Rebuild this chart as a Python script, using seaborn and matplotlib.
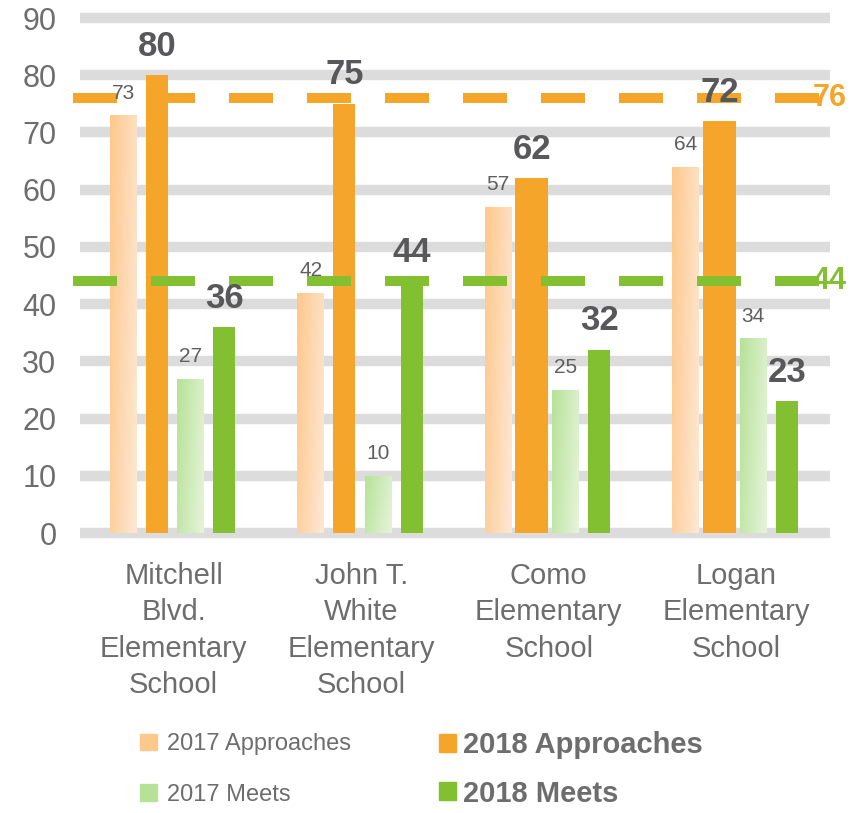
import numpy as np
import pandas as pd
import seaborn as sns
import matplotlib.pyplot as plt
from matplotlib.patches import Patch
from matplotlib.colors import to_rgb

# dati
scuole = ["Mitchell\nBlvd.\nElementary\nSchool", "John T.\nWhite\nElementary\nSchool",
          "Como\nElementary\nSchool", "Logan\nElementary\nSchool"]
serie = ["2017 Approaches", "2018 Approaches", "2017 Meets", "2018 Meets"]
appr_2017 = [73, 42, 57, 64]
appr_2018 = [80, 75, 62, 72]
meets_2017 = [27, 10, 25, 34]
meets_2018 = [36, 44, 32, 23]
target_appr = 76
target_meets = 44
yticks = list(range(0, 100, 10))

arancio = "#f5a52a"
verde = "#83c031"
arancio_chiaro = ("#fdc88c", "#fee8d3")
verde_chiaro = ("#b6e297", "#e6f4db")
grigio = "#6d6d6d"

sns.set_style("white")
plt.rcParams["font.family"] = ["Liberation Sans", "DejaVu Sans"]

df = pd.DataFrame({
    "scuola": scuole * 4,
    "serie": [s for s in serie for _ in scuole],
    "valore": appr_2017 + appr_2018 + meets_2017 + meets_2018,
})

fig = plt.figure(figsize=(8.56, 8.13), dpi=100)
ax = fig.add_axes([80 / 856, 0.3359, 750 / 856, 0.6504])
sns.barplot(data=df, x="scuola", y="valore", hue="serie", hue_order=serie,
            palette=[arancio_chiaro[0], arancio, verde_chiaro[0], verde],
            width=0.72, saturation=1, legend=False, ax=ax, zorder=2)

# larghezze delle barre come nel powerpoint originale
larghezze = {0: [0.144] * 4, 1: [0.117, 0.117, 0.176, 0.176], 2: [0.144] * 4, 3: [0.117] * 4}
for k, cont in enumerate(ax.containers):
    for j, p in enumerate(cont.patches):
        c = p.get_x() + p.get_width() / 2
        w = larghezze[k][j]
        p.set_x(c - w / 2)
        p.set_width(w)
        p.set_edgecolor("none")

def gradiente(p, colori):
    c0, c1 = np.array(to_rgb(colori[0])), np.array(to_rgb(colori[1]))
    xx, yy = np.meshgrid(np.linspace(0, 1, 64), np.linspace(0, 1, 64))
    t = np.clip(0.75 * xx + 0.25 * (1 - yy), 0, 1)[..., None]
    img = c0 * (1 - t) + c1 * t
    x0, w, h = p.get_x(), p.get_width(), p.get_height()
    im = ax.imshow(img, extent=(x0, x0 + w, 0, h), origin="lower", aspect="auto", zorder=2)
    im.set_clip_path(p)
    p.set_facecolor("none")

for p in ax.containers[0].patches:
    gradiente(p, arancio_chiaro)
for p in ax.containers[2].patches:
    gradiente(p, verde_chiaro)

# etichette dei valori
for k, cont in enumerate(ax.containers):
    for p, v in zip(cont.patches, [appr_2017, appr_2018, meets_2017, meets_2018][k]):
        xc = p.get_x() + p.get_width() / 2
        if k in (0, 2):
            ax.annotate(str(v), (xc, v), xytext=(0, 12), textcoords="offset points",
                        ha="center", va="baseline", fontsize=15, color="#5f5f5f", zorder=5)
        else:
            ax.annotate(str(v), (xc, v), xytext=(0, 14), textcoords="offset points",
                        ha="center", va="baseline", fontsize=25, fontweight="bold",
                        color="#58585a", zorder=5)

# linee obiettivo tratteggiate
for val, col in [(target_appr, arancio), (target_meets, verde)]:
    ax.axhline(val, xmin=-0.009, xmax=0.985, color=col, lw=7.2,
               linestyle=(0, (4.4, 3.4)), clip_on=False, zorder=4)
    ax.text(0.977, val, str(val), transform=ax.get_yaxis_transform(), color=col,
            fontsize=22, fontweight="bold", va="center", ha="left", zorder=5)

ax.set_xlim(-0.5, 3.5)
ax.set_ylim(-1.2, 91.2)
ax.set_yticks(yticks)
ax.grid(axis="y", color="#dcdcdc", lw=7.5)
ax.set_axisbelow(True)
ax.set_xlabel("")
ax.set_ylabel("")
ax.tick_params(axis="both", length=0, colors=grigio)
ax.tick_params(axis="y", labelsize=22, pad=17)
ax.tick_params(axis="x", labelsize=21, pad=16)
for t in ax.get_xticklabels():
    t.set_linespacing(1.38)
sns.despine(ax=ax, left=True, bottom=True)

# legenda su due colonne con caratteri diversi
h17 = [Patch(color=arancio_chiaro[0]), Patch(color=verde_chiaro[0])]
h18 = [Patch(color=arancio), Patch(color=verde)]
leg1 = fig.legend(h17, ["2017 Approaches", "2017 Meets"], loc="upper left",
                  bbox_to_anchor=(119 / 856, 1 - 712 / 813), frameon=False, fontsize=17,
                  handlelength=0.72, handleheight=0.72, handletextpad=0.4,
                  labelspacing=1.2, labelcolor=grigio)
leg2 = fig.legend(h18, ["2018 Approaches", "2018 Meets"], loc="upper left",
                  bbox_to_anchor=(413 / 856, 1 - 705 / 813), frameon=False,
                  prop={"size": 21, "weight": "bold"},
                  handlelength=0.58, handleheight=0.58, handletextpad=0.25,
                  labelspacing=0.7, labelcolor=grigio)

fig.savefig("out.png", dpi=100)
